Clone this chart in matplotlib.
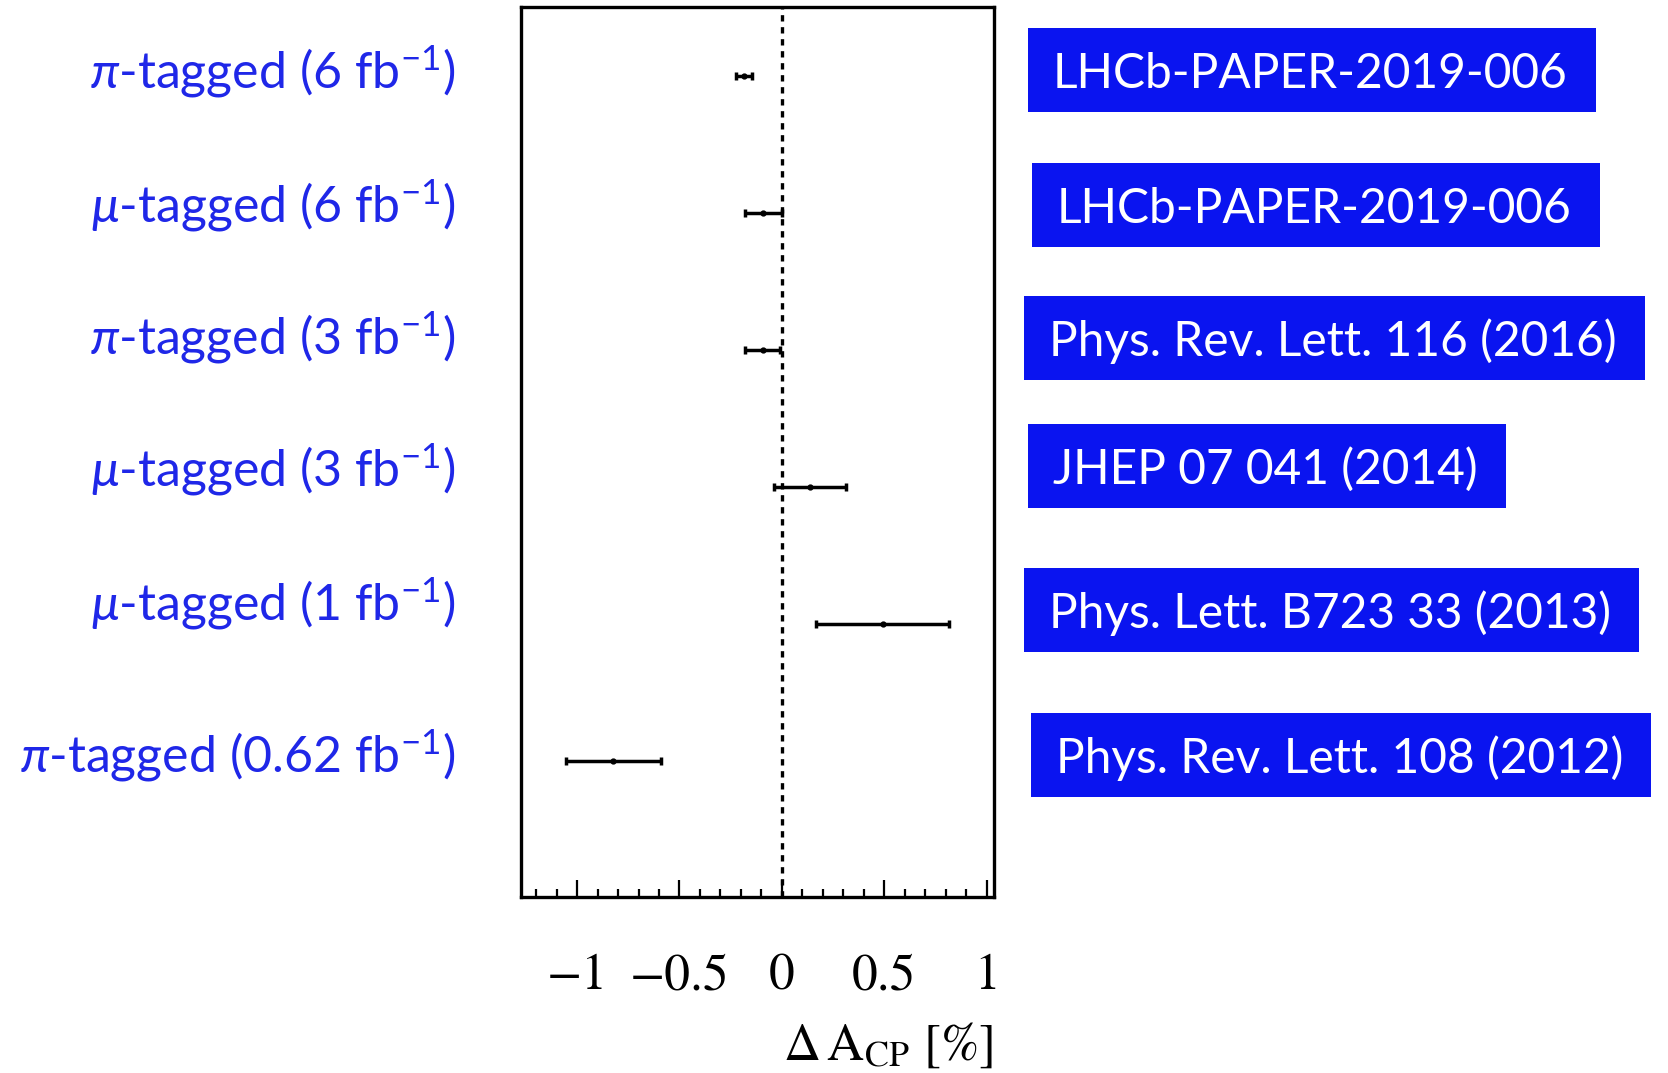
import matplotlib
matplotlib.use("Agg")
import matplotlib.pyplot as plt
import numpy as np
from matplotlib.patches import Rectangle
from matplotlib.ticker import MultipleLocator

# measurements, top to bottom
labels = [
    r"$\pi$-tagged (6 fb$^{\mathrm{-1}}$)",
    r"$\mu$-tagged (6 fb$^{\mathrm{-1}}$)",
    r"$\pi$-tagged (3 fb$^{\mathrm{-1}}$)",
    r"$\mu$-tagged (3 fb$^{\mathrm{-1}}$)",
    r"$\mu$-tagged (1 fb$^{\mathrm{-1}}$)",
    r"$\pi$-tagged (0.62 fb$^{\mathrm{-1}}$)",
]
refs = [
    "LHCb-PAPER-2019-006",
    "LHCb-PAPER-2019-006",
    "Phys. Rev. Lett. 116 (2016)",
    "JHEP 07 041 (2014)",
    "Phys. Lett. B723 33 (2013)",
    "Phys. Rev. Lett. 108 (2012)",
]
delta_acp = [-0.185, -0.09, -0.094, 0.138, 0.492, -0.823]
delta_err = [0.037, 0.090, 0.086, 0.175, 0.326, 0.232]

W, H = 1668, 1073
BLUE_TXT = "#1f27e8"
BLUE_BOX = "#0a14f0"

plt.rcParams["mathtext.fontset"] = "custom"
plt.rcParams["mathtext.rm"] = "Lato"
plt.rcParams["mathtext.it"] = "Lato:italic"

fig = plt.figure(figsize=(W / 100, H / 100), dpi=100)
ax = fig.add_axes([521 / W, 1 - 897 / H, (994 - 521) / W, (897 - 7) / H])

ypos = np.arange(len(delta_acp))
ax.axvline(0, color="k", lw=2.4, linestyle=(0, (1.9, 1.7)), zorder=1)
ax.errorbar(delta_acp, ypos, xerr=delta_err, fmt="o", ms=3.5, color="k",
            lw=2.5, capsize=2.8, capthick=2.5, zorder=2)

ax.set_xlim(-1.274, 1.036)
ax.set_ylim(5.997, -0.504)
ax.xaxis.set_major_locator(MultipleLocator(0.5))
ax.xaxis.set_minor_locator(MultipleLocator(0.1))
ax.set_xticks([-1, -0.5, 0, 0.5, 1])
ax.set_xticklabels(["\u22121", "\u22120.5", "0", "0.5", "1"])
ax.set_yticks([])
ax.tick_params(axis="x", which="both", direction="in", top=False,
               width=1.6, labelsize=37, pad=41, labelfontfamily="STIXGeneral")
ax.tick_params(axis="x", which="major", length=12)
ax.tick_params(axis="x", which="minor", length=6)
for sp in ax.spines.values():
    sp.set_linewidth(2.4)

fig.text(993 / W, 1 - 1060 / H, r"$\Delta\,\mathrm{A}_{\mathrm{CP}}$ [%]",
         ha="right", va="baseline", family="STIXGeneral",
         math_fontfamily="stix", size=37)

# left-hand labels
label_base = [88, 222, 354, 486, 620, 772]
for lab, yb in zip(labels, label_base):
    fig.text(455 / W, 1 - yb / H, lab, ha="right", va="baseline",
             family="Lato", size=36, color=BLUE_TXT,
             math_fontfamily="custom")

# reference boxes
ref_x = [1053, 1057, 1049, 1053, 1049, 1056]
ref_base = [88, 223, 356, 484, 628, 773]
ref_texts = []
for r, x, yb in zip(refs, ref_x, ref_base):
    t = fig.text(x / W, 1 - yb / H, r, ha="left", va="baseline",
                 family="Lato", size=34.5, color="white", zorder=5)
    ref_texts.append((t, x, yb))

fig.canvas.draw()
rend = fig.canvas.get_renderer()
for t, x, yb in ref_texts:
    bb = t.get_window_extent(rend)
    x0 = x - 25
    x1 = bb.x1 + 28
    y_top = yb - 60
    y_bot = yb + 24
    fig.add_artist(Rectangle((x0 / W, 1 - y_bot / H), (x1 - x0) / W,
                             (y_bot - y_top) / H, transform=fig.transFigure,
                             facecolor=BLUE_BOX, edgecolor="none", zorder=1))

fig.savefig("out.png", dpi=100)
